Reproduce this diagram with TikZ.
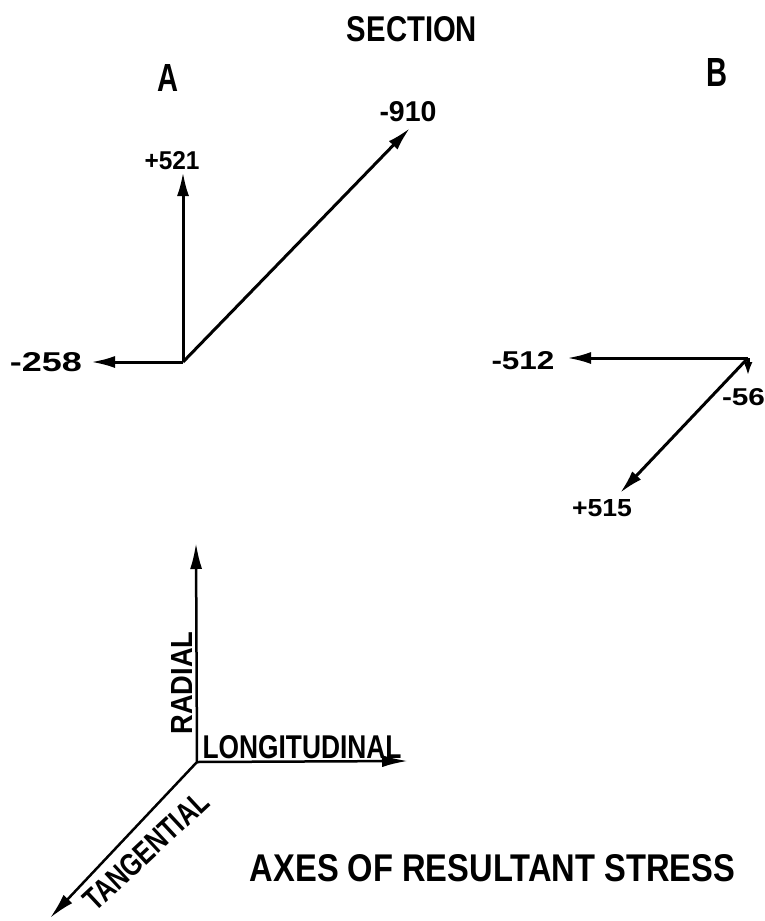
\documentclass[tikz,border=0pt]{standalone}
\usepackage{fontspec}
\setmainfont{Liberation Sans}
\usetikzlibrary{arrows.meta}
\newcommand{\fitlbl}[3]{\resizebox{#1pt}{#2pt}{\bfseries #3}}
\tikzset{
  lbl/.style={inner sep=0pt, outer sep=0pt, anchor=center},
  vec/.style={line width=3pt, -{Latex[length=24pt,width=12pt]}},
  shortvec/.style={line width=3pt, -{Latex[length=14pt,width=9pt]}},
  axis/.style={line width=2.5pt, -{Latex[length=26pt,width=12pt]}},
}
\begin{document}
\begin{tikzpicture}[x=1pt,y=-1pt]
\useasboundingbox (0,0) rectangle (765,921);
% titles
\node[lbl] (sec) at (412,29.5) {\fitlbl{130}{25}{SECTION}};
\node[lbl] (la) at (168,78) {\fitlbl{21}{27}{A}};
\node[lbl] (lb) at (717,72) {\fitlbl{21}{28}{B}};
% section A
\coordinate (oA) at (183,362);
\coordinate (aUp) at (183,172);
\coordinate (aLeft) at (91,362);
\coordinate (aDiag) at (410,128);
\draw[vec] (oA) -- (aUp);
\draw[vec] (oA) -- (aLeft);
\draw[vec] (oA) -- (aDiag);
\node[lbl] (n521) at (172,161) {\fitlbl{55}{18}{+521}};
\node[lbl] (n258) at (46,362) {\fitlbl{72}{19}{-258}};
\node[lbl] (n910) at (408,112) {\fitlbl{57}{20}{-910}};
% section B
\coordinate (oB) at (748,358);
\coordinate (bLeft) at (567,358);
\coordinate (bDown) at (748,376);
\coordinate (bDiag) at (620,493);
\draw[vec] (oB) -- (bLeft);
\draw[shortvec] (oB) -- (bDown);
\draw[vec] (oB) -- (bDiag);
\node[lbl] (n512) at (523,361) {\fitlbl{63}{18}{-512}};
\node[lbl] (n56) at (743.5,397) {\fitlbl{43}{17}{-56}};
\node[lbl] (n515) at (602,508) {\fitlbl{60}{17}{+515}};
% axes
\coordinate (o) at (197,762);
\coordinate (rad) at (196,543);
\coordinate (lon) at (408,761);
\coordinate (tan) at (50,918);
\draw[axis] (o) -- (rad);
\draw[axis] (o) -- (lon);
\draw[axis] (o) -- (tan);
\node[lbl, rotate=90] (tr) at (182,683) {\fitlbl{103}{21}{RADIAL}};
\node[lbl] (tl) at (302,747) {\fitlbl{199}{23}{LONGITUDINAL}};
\node[lbl, rotate=43] (tt) at (146,851) {\fitlbl{158}{22}{TANGENTIAL}};
\node[lbl] (cap) at (492.5,868.5) {\fitlbl{485}{27}{AXES OF RESULTANT STRESS}};
\end{tikzpicture}
\end{document}
